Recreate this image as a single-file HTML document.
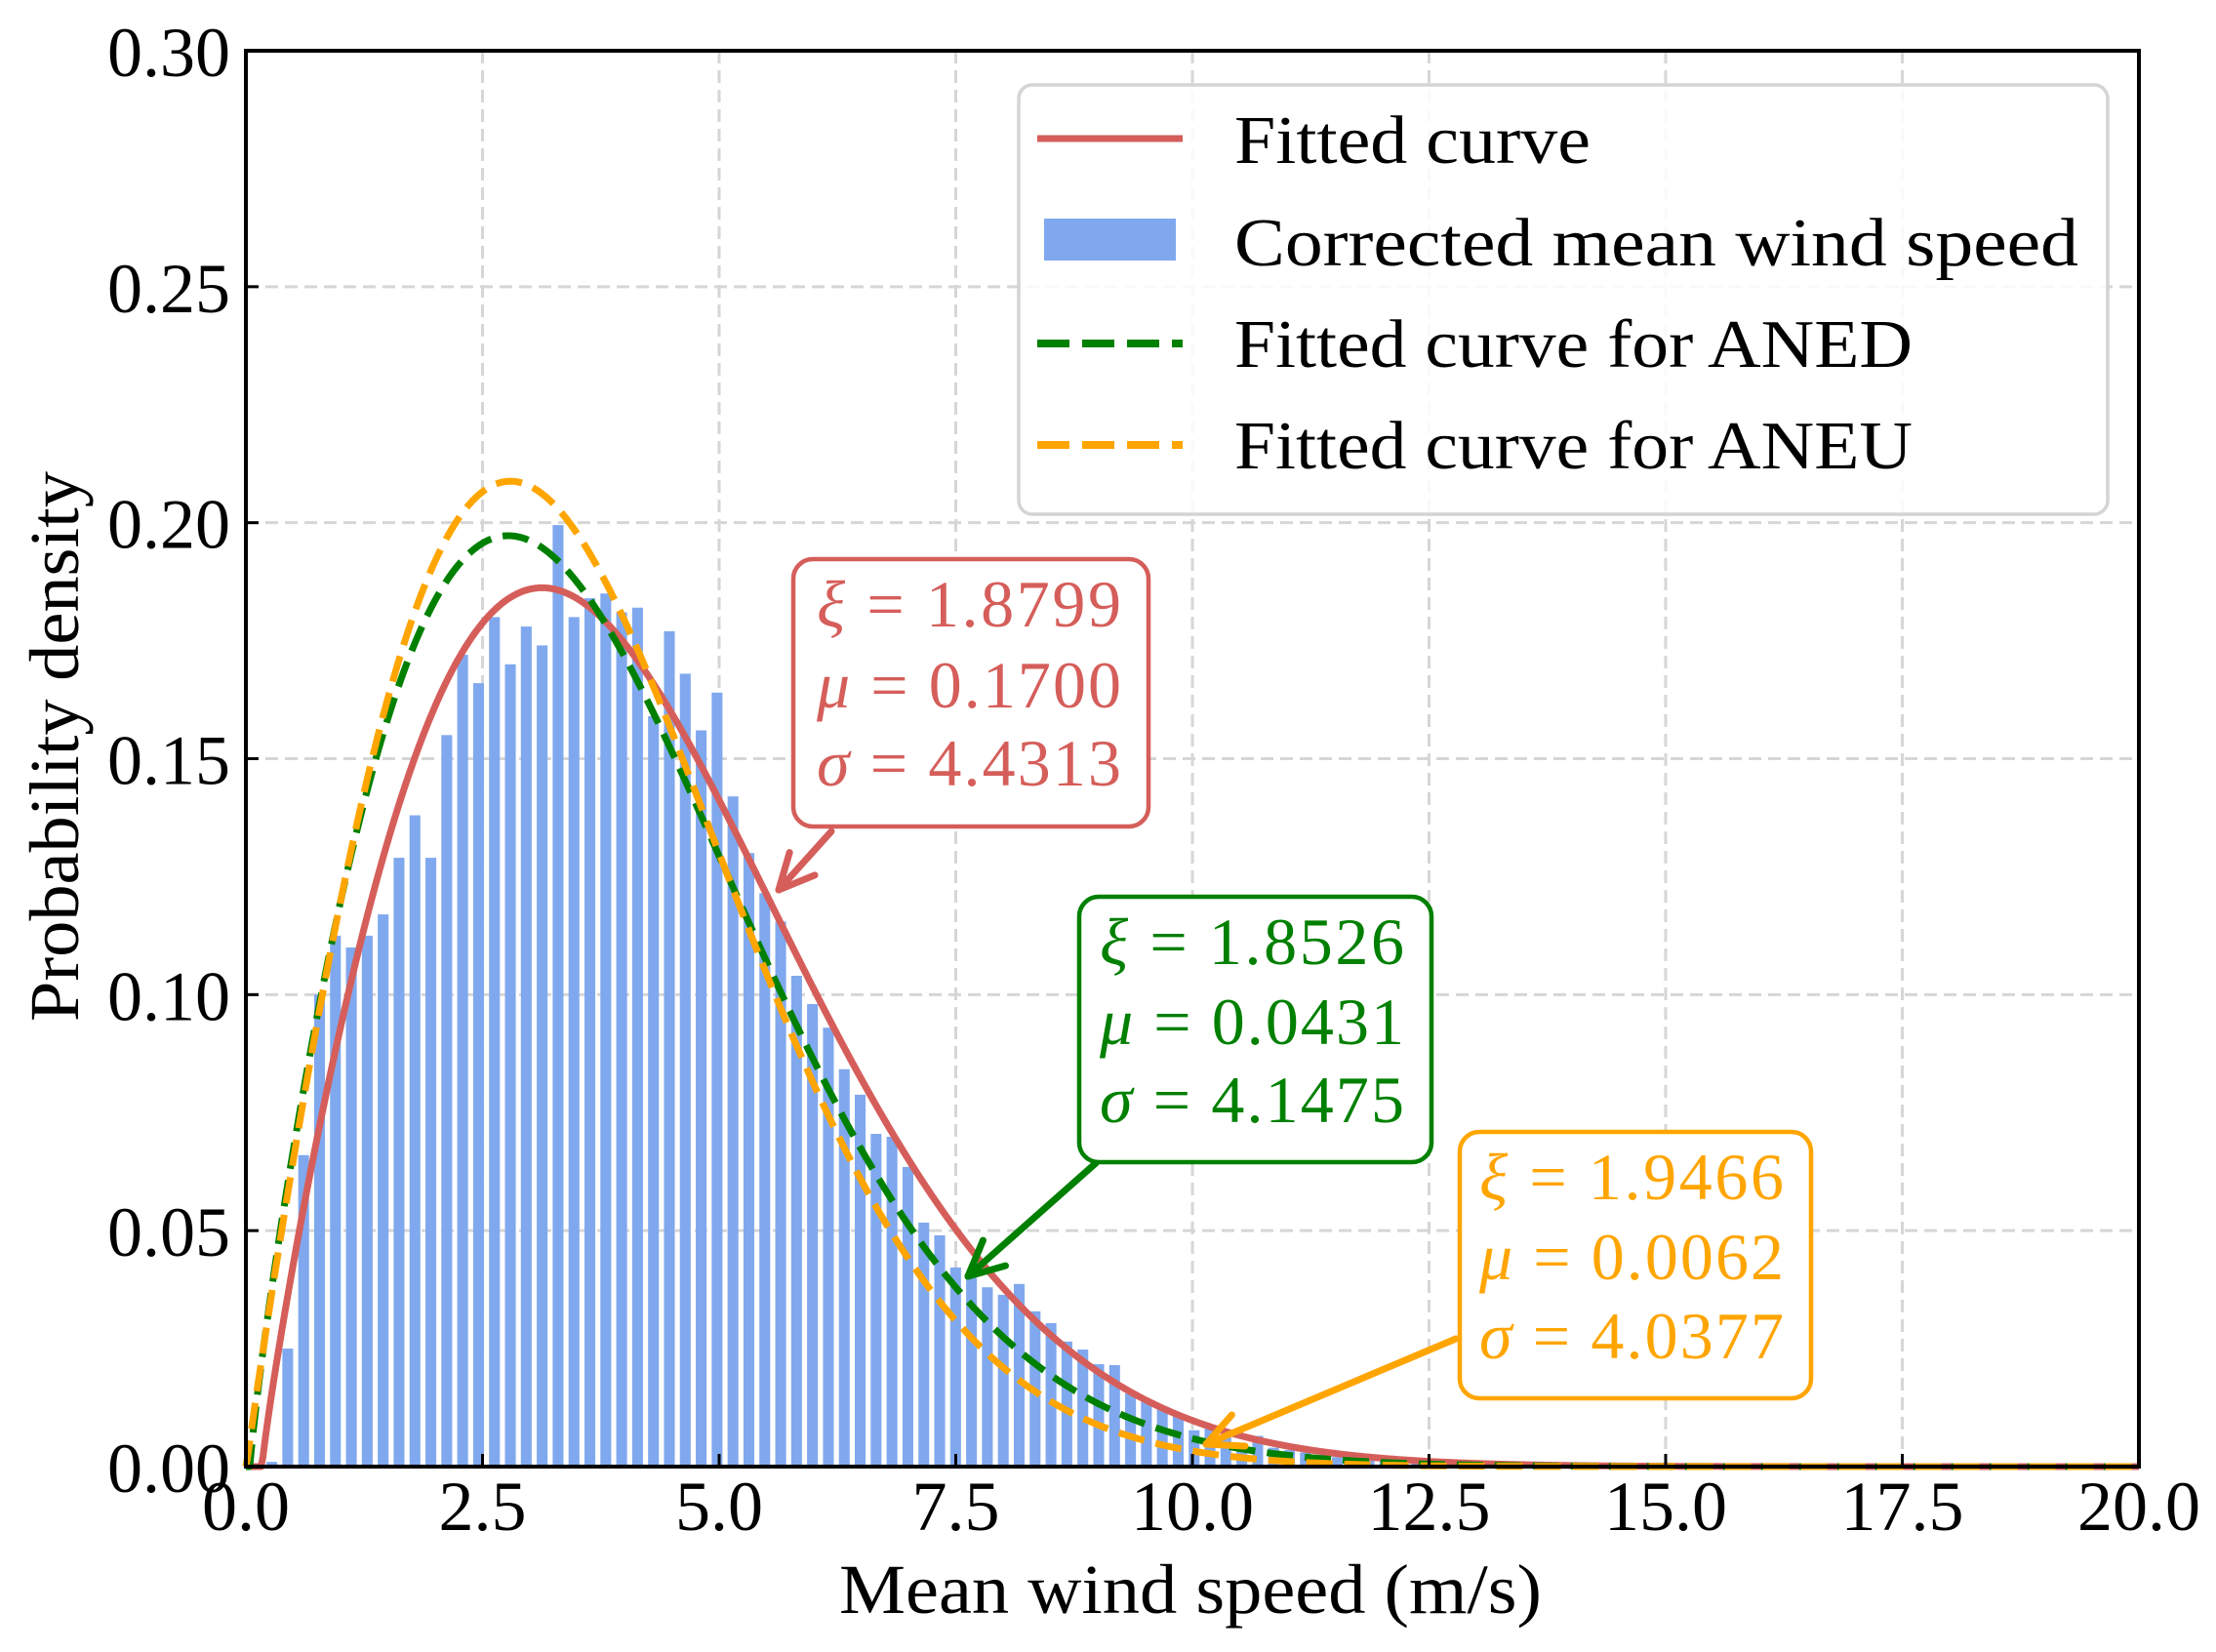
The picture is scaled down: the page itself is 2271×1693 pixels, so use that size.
<!DOCTYPE html>
<html><head><meta charset="utf-8"><style>
html,body{margin:0;padding:0;background:#fff;}
svg{display:block;}
text{font-family:"Liberation Serif",serif;}
</style></head><body>
<svg id="chart" width="2271" height="1693" viewBox="0 0 2271 1693" xmlns="http://www.w3.org/2000/svg">
<g id="grid"></g>
<g id="bars"></g>
<g id="curves"></g>
<g id="annots"></g>
<g id="legend"></g>
<g id="axes"></g>
</svg>
<script>
const xTicks = [0, 2.5, 5, 7.5, 10, 12.5, 15, 17.5, 20];
const xTickLabels = ["0.0","2.5","5.0","7.5","10.0","12.5","15.0","17.5","20.0"];
const yTicks = [0, 0.05, 0.10, 0.15, 0.20, 0.25, 0.30];
const yTickLabels = ["0.00","0.05","0.10","0.15","0.20","0.25","0.30"];
const binStart = 0.217;
const binWidth = 0.168;
const barDensity = [0.001,0.025,0.066,0.100,0.1125,0.110,0.1125,0.117,0.129,0.138,0.129,0.155,0.172,0.166,0.180,0.170,0.178,0.174,0.1995,0.180,0.184,0.185,0.181,0.182,0.159,0.177,0.168,0.156,0.164,0.142,0.130,0.1215,0.1155,0.104,0.098,0.093,0.0842,0.0788,0.0705,0.0699,0.0635,0.0517,0.049,0.0422,0.040,0.038,0.0364,0.0387,0.0329,0.0304,0.0265,0.0248,0.0217,0.0215,0.0155,0.014,0.0124,0.011,0.0077,0.0083,0.0075,0.005,0.0065,0.004,0.0035,0.003,0.0025,0.002,0.002,0.0015,0.0012,0.001,0.001,0.0008,0.0006,0.0005,0.0004,0.0003];
const curveNames = ["Fitted curve","Fitted curve for ANED","Fitted curve for ANEU"];
const curveShape = [1.8799, 1.8526, 1.9466];
const curveLoc = [0.1700, 0.0431, 0.0062];
const curveScale = [4.4313, 4.1475, 4.0377];
const curveColors = ["#d55e5a","#008000","#ffa500"];

const NS = "http://www.w3.org/2000/svg";
const X0=252, X1=2192, Y0=1503, Y1=52;
const xS = v => X0 + (v-0)/(20-0)*(X1-X0);
const yS = v => Y0 - v/0.30*(Y0-Y1);
function mk(tag, attrs, parent){const e=document.createElementNS(NS,tag);for(const k in attrs)e.setAttribute(k,attrs[k]);parent.appendChild(e);return e;}

const grid=document.getElementById('grid');
xTicks.forEach((t,i)=>{ if(i===0||i===xTicks.length-1) return;
  const l=mk('line',{x1:xS(t),x2:xS(t),y1:Y1,y2:Y0,stroke:'#d6d6d6','stroke-width':3,'stroke-dasharray':'13,7'},grid);
  
  
});
yTicks.forEach((t,i)=>{ if(i===0||i===yTicks.length-1) return;
  const l=mk('line',{x1:X0,x2:X1,y1:yS(t),y2:yS(t),stroke:'#d6d6d6','stroke-width':3,'stroke-dasharray':'13,7'},grid);
  
  
});

const bars=document.getElementById('bars');
barDensity.forEach((d,i)=>{
  const xl=xS(binStart+i*binWidth), xr=xS(binStart+(i+1)*binWidth);
  const w=(xr-xl)*0.68;
  const r=mk('rect',{x:xl,y:yS(d),width:w,height:Y0-yS(d),fill:'#80a8ee'},bars);
  
  
});

function weib(x,k,loc,s){const t=(x-loc)/s; if(t<=0) return 0; return k/s*Math.pow(t,k-1)*Math.exp(-Math.pow(t,k));}
const curves=document.getElementById('curves');
[0,1,2].forEach(ci=>{
  let d='';
  for(let x=0;x<=20.0001;x+=0.02){
    const v=weib(x,curveShape[ci],curveLoc[ci],curveScale[ci]);
    d+=(d?'L':'M')+xS(x).toFixed(2)+','+yS(v).toFixed(2);
  }
  const attrs={d:d,fill:'none',stroke:curveColors[ci],'stroke-width':7,'stroke-linejoin':'round'};
  if(ci>0) attrs['stroke-dasharray']='27,12';
  const p=mk('path',attrs,curves);
  
  
});

// annotations
const annots=document.getElementById('annots');
const boxes=[
  {x:813,y:573,w:364,h:274,tx:837,base:[642,725,805],arrow:[852,852,798,912]},
  {x:1106,y:919,w:361,h:272,tx:1127,base:[988,1070,1150],arrow:[1123,1192,992,1308]},
  {x:1496,y:1160,w:360,h:273,tx:1516,base:[1229,1311,1392],arrow:[1492,1372,1236,1480]}
];
const syms=['ξ','μ','σ'];
boxes.forEach((b,ci)=>{
  const col=curveColors[ci];
  const g=mk('g',{},annots);
  
  
  const [x1,y1,x2,y2]=b.arrow;
  mk('line',{x1:x1,y1:y1,x2:x2,y2:y2,stroke:col,'stroke-width':7,'stroke-linecap':'round'},g);
  const ang=Math.atan2(y2-y1,x2-x1), L=40, sp=0.45;
  [1,-1].forEach(s=>{
    mk('line',{x1:x2,y1:y2,x2:x2-L*Math.cos(ang+s*sp),y2:y2-L*Math.sin(ang+s*sp),stroke:col,'stroke-width':7,'stroke-linecap':'round'},g);
  });
  mk('rect',{x:b.x,y:b.y,width:b.w,height:b.h,rx:20,fill:'#fff',stroke:col,'stroke-width':4.5},g);
  const vals=[curveShape[ci],curveLoc[ci],curveScale[ci]];
  vals.forEach((v,j)=>{
    const t=mk('text',{x:b.tx,y:b.base[j],fill:col,'font-size':68,textLength:312,lengthAdjust:'spacing'},g);
    
    
    const s1=document.createElementNS(NS,'tspan');s1.setAttribute('font-style','italic');s1.textContent=syms[j];t.appendChild(s1);
    const s2=document.createElementNS(NS,'tspan');s2.textContent=' = '+v.toFixed(4);t.appendChild(s2);
  });
});

// legend
const lg=document.getElementById('legend');
mk('rect',{x:1044,y:87,width:1116,height:440,rx:14,fill:'rgba(255,255,255,0.85)',stroke:'#d4d4d4','stroke-width':3.5},lg);
const legItems=[
  {label:'Fitted curve',type:'line',col:curveColors[0],y:142,base:167,len:365},
  {label:'Corrected mean wind speed',type:'patch',col:'#80a8ee',y:246,base:272,len:865},
  {label:'Fitted curve for ANED',type:'dash',col:curveColors[1],y:352,base:376,len:695},
  {label:'Fitted curve for ANEU',type:'dash',col:curveColors[2],y:456,base:480,len:695}
];
legItems.forEach(it=>{
  const g=mk('g',{},lg);
  
  
  if(it.type==='patch') mk('rect',{x:1070,y:it.y-22,width:135,height:43,fill:it.col},g);
  else {
    const a={x1:1063,x2:1212,y1:it.y,y2:it.y,stroke:it.col,'stroke-width':it.type==='line'?7:8};
    if(it.type==='dash') a['stroke-dasharray']='33,13';
    mk('line',a,g);
  }
  const t=mk('text',{x:1265,y:it.base,'font-size':70,fill:'#000',textLength:it.len,lengthAdjust:'spacingAndGlyphs'},g);
  t.textContent=it.label;
});

// axes
const ax=document.getElementById('axes');
mk('rect',{x:X0,y:Y1,width:X1-X0,height:Y0-Y1,fill:'none',stroke:'#000','stroke-width':4},ax);
xTicks.forEach((t,i)=>{
  mk('line',{x1:xS(t),x2:xS(t),y1:Y0,y2:Y0-13,stroke:'#000','stroke-width':3},ax);
  const tx=mk('text',{x:xS(t),y:1568,'font-size':72,'text-anchor':'middle'},ax);
  
  
  tx.textContent=xTickLabels[i];
});
yTicks.forEach((t,i)=>{
  mk('line',{x1:X0,x2:X0+13,y1:yS(t),y2:yS(t),stroke:'#000','stroke-width':3},ax);
  const tx=mk('text',{x:236,y:yS(t)+26,'font-size':72,'text-anchor':'end'},ax);
  
  
  tx.textContent=yTickLabels[i];
});
const xl=mk('text',{x:1220,y:1653,'font-size':72,'text-anchor':'middle',textLength:720,lengthAdjust:'spacingAndGlyphs'},ax);


xl.textContent='Mean wind speed (m/s)';
const yl=mk('text',{x:0,y:0,'font-size':72,'text-anchor':'middle',transform:'translate(80,765) rotate(-90)',textLength:564,lengthAdjust:'spacingAndGlyphs'},ax);


yl.textContent='Probability density';
</script>
</body></html>
